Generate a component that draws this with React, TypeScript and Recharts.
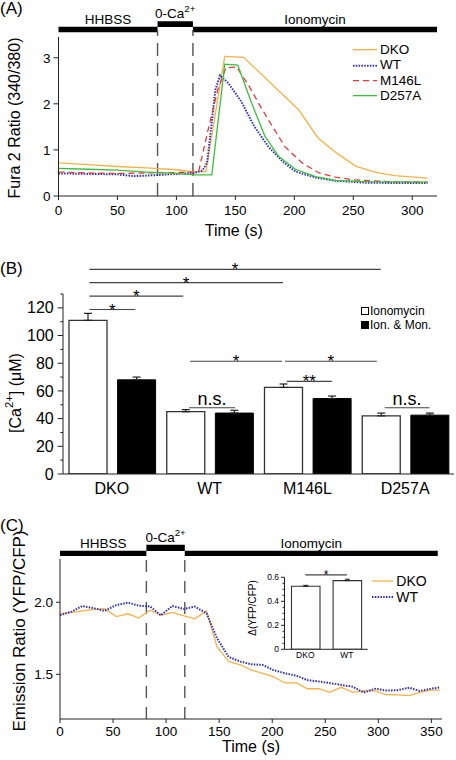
import React from 'react';
import {
  LineChart, Line, BarChart, Bar, ErrorBar, XAxis, YAxis,
  ReferenceArea, ReferenceLine, Legend,
} from 'recharts';

const FONT = '"Liberation Sans", Arial, Helvetica, sans-serif';

// ---- (A) Fura-2 ratio traces ----
const dkoTimeA = [0, 25, 50, 75, 100, 113, 125, 141, 157, 204, 220, 236, 252, 268, 285, 313];
const dkoRatioA = [0.72, 0.68, 0.64, 0.61, 0.57, 0.53, 0.53, 3.03, 3.01, 1.86, 1.26, 0.93, 0.65, 0.52, 0.44, 0.39];
const wtTimeA = [0, 25, 50, 64, 80, 100, 115, 122, 126, 130, 133, 137, 144, 155, 166, 178, 190, 201, 218, 235, 260, 290, 313];
const wtRatioA = [0.49, 0.48, 0.47, 0.43, 0.45, 0.48, 0.5, 0.55, 0.72, 1.6, 2.3, 2.62, 2.45, 2.05, 1.51, 1.07, 0.75, 0.53, 0.4, 0.33, 0.29, 0.28, 0.28];
const m146lTimeA = [0, 25, 50, 75, 100, 115, 119, 127, 135, 142, 151, 161, 170, 178, 192, 207, 221, 235, 250, 280, 313];
const m146lRatioA = [0.52, 0.5, 0.49, 0.5, 0.51, 0.52, 0.55, 1.45, 2.3, 2.78, 2.8, 2.41, 2.0, 1.65, 1.07, 0.71, 0.5, 0.41, 0.35, 0.31, 0.3];
const d257aTimeA = [0, 25, 50, 75, 100, 115, 130, 141, 152, 164, 175, 187, 201, 218, 235, 260, 313];
const d257aRatioA = [0.6, 0.58, 0.56, 0.52, 0.49, 0.46, 0.46, 2.86, 2.84, 2.0, 1.3, 0.85, 0.58, 0.42, 0.34, 0.31, 0.3];
const timeTicksA = [0, 50, 100, 150, 200, 250, 300];
const ratioTicksA = [0, 1, 2, 3];

// stimulation protocol (time boundaries of each period)
const stimLabels = ['HHBSS', '0-Ca', 'Ionomycin'];
const stimSup = ['', '2+', ''];
const stimEdgesA = [0, 84, 114, 321];
const stimEdgesC = [0, 81.4, 117.6, 356];

// ---- (B) calibrated [Ca2+] ----
const categoriesB = ['DKO', 'WT', 'M146L', 'D257A'];
const ionomycinB = [111, 45, 62.5, 42];
const ionomycinErrB = [5, 1.5, 2.5, 2];
const ionMonB = [68, 44, 54.5, 42.5];
const ionMonErrB = [2, 2, 1.8, 1.5];
const ticksB = [0, 10, 20, 30, 40, 50, 60, 70, 80, 90, 100, 110, 120, 130];
// comparisons: from/to in group units (index + bar offset), height in µM
const sigB = [
  { from: 0.27, to: 3.25, at: 147.8, mark: '*' },
  { from: 0.27, to: 2.25, at: 138.2, mark: '*' },
  { from: 0.27, to: 1.23, at: 128.5, mark: '*' },
  { from: 0.27, to: 0.74, at: 118.8, mark: '*' },
  { from: 1.3, to: 2.24, at: 81.4, mark: '*' },
  { from: 2.27, to: 3.21, at: 81.4, mark: '*' },
  { from: 2.29, to: 2.75, at: 66.9, mark: '**' },
  { from: 1.29, to: 1.76, at: 47.8, mark: 'n.s.' },
  { from: 3.29, to: 3.75, at: 47.8, mark: 'n.s.' },
];

// ---- (C) YFP/CFP emission ratio ----
const timeC = [0, 11, 21, 32, 42, 53, 64, 74, 85, 95, 106, 117, 127, 138, 148, 159, 170, 180, 191, 201, 212, 223, 233, 244, 254, 265, 276, 286, 297, 307, 318, 329, 339, 350, 358];
const dkoC = [1.92, 1.93, 1.94, 1.95, 1.955, 1.9, 1.92, 1.89, 1.945, 1.91, 1.93, 1.905, 1.885, 1.94, 1.69, 1.59, 1.565, 1.53, 1.507, 1.484, 1.44, 1.44, 1.4, 1.4, 1.375, 1.41, 1.375, 1.387, 1.385, 1.36, 1.357, 1.352, 1.375, 1.39, 1.39];
const wtC = [1.91, 1.935, 1.974, 1.958, 1.94, 1.98, 1.997, 1.977, 1.97, 1.91, 1.974, 1.953, 1.97, 1.924, 1.75, 1.62, 1.588, 1.57, 1.565, 1.53, 1.507, 1.49, 1.46, 1.45, 1.44, 1.426, 1.414, 1.373, 1.4, 1.387, 1.39, 1.407, 1.385, 1.4, 1.41];
const timeTicksC = [0, 50, 100, 150, 200, 250, 300, 350];
const ratioTicksC = [1.5, 2.0];

// inset: Δ(YFP/CFP)
const insetCats = ['DKO', 'WT'];
const insetDelta = [0.525, 0.572];
const insetErr = [0.008, 0.012];
const insetTicks = [0, 0.05, 0.1, 0.15, 0.2, 0.25, 0.3, 0.35, 0.4, 0.45, 0.5, 0.55, 0.6];
const sigInset = [{ from: 0.5, to: 1.5, at: 0.62, mark: '*' }];

const ORANGE = '#f5b24a';
const BLUE = '#3030c0';
const RED = '#e63a3a';
const GREEN = '#3cbf3c';

const pts = (t: number[], v: number[]) => t.map((x, i) => ({ t: x, v: v[i] }));

const seriesA = [
  { name: 'DKO', data: pts(dkoTimeA, dkoRatioA), color: ORANGE, width: 1.3, dash: undefined },
  { name: 'WT', data: pts(wtTimeA, wtRatioA), color: BLUE, width: 2, dash: '1.5 1.3' },
  { name: 'M146L', data: pts(m146lTimeA, m146lRatioA), color: RED, width: 1.3, dash: '6 4' },
  { name: 'D257A', data: pts(d257aTimeA, d257aRatioA), color: GREEN, width: 1.3, dash: undefined },
];
const seriesC = [
  { name: 'DKO', data: pts(timeC, dkoC), color: ORANGE, width: 1.3, dash: undefined },
  { name: 'WT', data: pts(timeC, wtC), color: BLUE, width: 2, dash: '1.5 1.3' },
];

const AXIS = '#222';

function LineKey({ items, fontSize, rowHeight, lineWidth }: any) {
  return (
    <div style={{ fontFamily: FONT, fontSize, color: '#000' }}>
      {items.map((s: any) => (
        <div key={s.name} style={{ display: 'flex', alignItems: 'center', height: rowHeight }}>
          <svg width={lineWidth} height={rowHeight} style={{ display: 'block' }}>
            <line x1={0} x2={lineWidth} y1={rowHeight / 2} y2={rowHeight / 2} stroke={s.color} strokeWidth={s.width} strokeDasharray={s.dash} />
          </svg>
          <span style={{ marginLeft: 3, lineHeight: 1 }}>{s.name}</span>
        </div>
      ))}
    </div>
  );
}

function BoxKey() {
  const rows = [
    { name: 'Ionomycin', fill: '#fff' },
    { name: 'Ion. & Mon.', fill: '#000' },
  ];
  return (
    <div style={{ fontFamily: FONT, fontSize: 12, color: '#000' }}>
      {rows.map((r) => (
        <div key={r.name} style={{ display: 'flex', alignItems: 'center', height: 14 }}>
          <div style={{ width: 6, height: 6, border: '1px solid #000', background: r.fill }} />
          <span style={{ marginLeft: 1, lineHeight: 1 }}>{r.name}</span>
        </div>
      ))}
    </div>
  );
}

const stimText = (name: string, sup: string, fs: number) => (p: any) => {
  const vb = p.viewBox;
  if (!vb) return null;
  return (
    <text x={vb.x + vb.width / 2} y={vb.y - 3} textAnchor="middle" fontSize={fs} fill="#000">
      {name}
      {sup ? <tspan dy={-fs * 0.45} fontSize={fs * 0.72}>{sup}</tspan> : null}
    </text>
  );
};

function stimulus(edges: number[], base: number[], raised: number[], fs: number, dash: string, floor: number, dashTop: number) {
  const out: any[] = [];
  stimLabels.forEach((name, i) => {
    const lv = stimSup[i] ? raised : base;
    out.push(
      <ReferenceArea
        key={'s' + i}
        x1={edges[i]}
        x2={edges[i + 1]}
        y1={lv[0]}
        y2={lv[1]}
        ifOverflow="visible"
        fill="#000"
        fillOpacity={1}
        stroke="none"
        label={stimText(name, stimSup[i], fs)}
      />
    );
  });
  [edges[1], edges[2]].forEach((x, i) => {
    out.push(
      <ReferenceLine
        key={'d' + i}
        segment={[{ x, y: floor }, { x, y: dashTop }]}
        ifOverflow="visible"
        stroke="#555"
        strokeWidth={1.4}
        strokeDasharray={dash}
      />
    );
  });
  return out;
}

const yTitle = (cx: number, cy: number, fs: number, text: string, sup?: string, rest?: string) => () => (
  <text transform={`rotate(-90 ${cx} ${cy})`} x={cx} y={cy} textAnchor="middle" dominantBaseline="central" fontSize={fs} fill="#000">
    {text}
    {sup ? <tspan dy={-fs * 0.4} fontSize={fs * 0.7}>{sup}</tspan> : null}
    {rest ? <tspan dy={fs * 0.4}>{rest}</tspan> : null}
  </text>
);

function MinorTick(props: any) {
  const { x, y, payload, every, len, minorLen, fontSize, gap, fmt } = props;
  const v = payload.value;
  const major = Math.abs(v / every - Math.round(v / every)) < 1e-6;
  return (
    <g>
      <line x1={x - (major ? len : minorLen)} x2={x} y1={y} y2={y} stroke={AXIS} strokeWidth={1} />
      {major ? (
        <text x={x - len - gap} y={y} dy="0.35em" textAnchor="end" fontSize={fontSize} fill="#000">
          {fmt(v)}
        </text>
      ) : null}
    </g>
  );
}

const sigMark = (mark: string, fs: number, dy: number) => (p: any) => {
  const vb = p.viewBox;
  if (!vb) return null;
  return (
    <text x={vb.x + vb.width / 2} y={vb.y + dy} textAnchor="middle" fontSize={fs} fill="#000">
      {mark}
    </text>
  );
};

// transparent chart laid over a bar chart: linear x in group units, same y scale
function SigOverlay({ width, height, margin, xDomain, yDomain, items, starSize, starDy, nsSize, nsDy }: any) {
  return (
    <LineChart width={width} height={height} margin={margin}>
      <XAxis type="number" dataKey="x" domain={xDomain} allowDataOverflow hide />
      <YAxis type="number" domain={yDomain} allowDataOverflow hide />
      {items.map((s: any, i: number) => {
        const ns = s.mark === 'n.s.';
        return (
          <ReferenceLine
            key={'sig' + i}
            segment={[{ x: s.from, y: s.at }, { x: s.to, y: s.at }]}
            ifOverflow="visible"
            stroke="#444"
            strokeWidth={1.1}
            label={ns ? sigMark(s.mark, nsSize, nsDy) : sigMark(s.mark, starSize, starDy)}
          />
        );
      })}
    </LineChart>
  );
}

function PanelA() {
  return (
    <LineChart width={456} height={245} margin={{ top: 37, right: 19, bottom: 9, left: 0 }}>
      <XAxis
        type="number"
        dataKey="t"
        domain={[0, 321]}
        ticks={timeTicksA}
        allowDataOverflow
        height={40}
        tickSize={4}
        tickMargin={5}
        stroke={AXIS}
        tick={{ fill: '#000', fontSize: 13.5 }}
        label={{ value: 'Time (s)', position: 'insideBottom', offset: 0, dx: -14, fontSize: 16, fill: '#000' }}
      />
      <YAxis
        type="number"
        domain={[0, 3.45]}
        ticks={ratioTicksA}
        allowDataOverflow
        width={58.5}
        tickSize={5}
        tickMargin={3}
        stroke={AXIS}
        tick={{ fill: '#000', fontSize: 13.5 }}
        label={yTitle(14, 118, 16, 'Fura 2 Ratio (340/380)')}
      />
      {stimulus(stimEdgesA, [3.552, 3.673], [3.667, 3.79], 13.5, '13 7', 0, 3.6)}
      {seriesA.map((s) => (
        <Line
          key={s.name}
          data={s.data}
          dataKey="v"
          name={s.name}
          type="linear"
          stroke={s.color}
          strokeWidth={s.width}
          strokeDasharray={s.dash}
          dot={false}
          activeDot={false}
          isAnimationActive={false}
        />
      ))}
      <Legend
        layout="vertical"
        align="center"
        verticalAlign="middle"
        wrapperStyle={{ top: 42.3, left: 353, width: 'auto' }}
        content={() => <LineKey items={seriesA} fontSize={13.5} rowHeight={15.3} lineWidth={24} />}
      />
    </LineChart>
  );
}

function PanelB() {
  const rows = categoriesB.map((c, i) => ({
    name: c,
    ion: ionomycinB[i],
    mon: ionMonB[i],
    ionErr: [0, ionomycinErrB[i]],
    monErr: [0, ionMonErrB[i]],
  }));
  return (
    <BarChart width={456} height={260} data={rows} margin={{ top: 49, right: 2, bottom: 5, left: 0 }} barGap={10.6}>
      <XAxis dataKey="name" height={26} tickLine={false} tickSize={0} tickMargin={9} stroke={AXIS} interval={0} tick={{ fill: '#000', fontSize: 16 }} />
      <YAxis
        type="number"
        domain={[0, 130]}
        ticks={ticksB}
        interval={0}
        allowDataOverflow
        width={63}
        tickLine={false}
        tickSize={0}
        tickMargin={0}
        stroke={AXIS}
        tick={(p: any) => <MinorTick {...p} every={20} len={5.3} minorLen={2.7} gap={4} fontSize={16} fmt={(v: number) => String(v)} />}
        label={yTitle(15, 148, 16, '[Ca', '2+', '] (μM)')}
      />
      <Bar dataKey="ion" fill="#fff" stroke="#333" strokeWidth={1.3} barSize={38} isAnimationActive={false}>
        <ErrorBar dataKey="ionErr" width={4} stroke="#222" strokeWidth={1.2} direction="y" />
      </Bar>
      <Bar dataKey="mon" fill="#000" stroke="#000" strokeWidth={1} barSize={38} isAnimationActive={false}>
        <ErrorBar dataKey="monErr" width={4} stroke="#222" strokeWidth={1.2} direction="y" />
      </Bar>
      <Legend
        layout="vertical"
        align="center"
        verticalAlign="middle"
        wrapperStyle={{ top: 59, left: 361, width: 'auto' }}
        content={() => <BoxKey />}
      />
    </BarChart>
  );
}

function PanelC() {
  return (
    <LineChart width={456} height={255} margin={{ top: 54, right: 14, bottom: 11, left: 0 }}>
      <XAxis
        type="number"
        dataKey="t"
        domain={[0, 360]}
        ticks={timeTicksC}
        allowDataOverflow
        height={30}
        tickSize={4}
        tickMargin={3.5}
        stroke={AXIS}
        tick={{ fill: '#000', fontSize: 13.5 }}
        label={{ value: 'Time (s)', position: 'insideBottom', offset: -2.5, fontSize: 16, fill: '#000' }}
      />
      <YAxis
        type="number"
        domain={[1.19, 2.3]}
        ticks={ratioTicksC}
        allowDataOverflow
        width={60}
        tickSize={4}
        tickMargin={3}
        stroke={AXIS}
        tick={{ fill: '#000', fontSize: 13.5 }}
        tickFormatter={(v: number) => v.toFixed(1)}
        label={yTitle(19, 126, 17, 'Emission Ratio (YFP/CFP)')}
      />
      {stimulus(stimEdgesC, [2.321, 2.358], [2.356, 2.398], 13.5, '12 9', 1.19, 2.34)}
      {seriesC.map((s) => (
        <Line
          key={s.name}
          data={s.data}
          dataKey="v"
          name={s.name}
          type="linear"
          stroke={s.color}
          strokeWidth={s.width}
          strokeDasharray={s.dash}
          dot={false}
          activeDot={false}
          isAnimationActive={false}
        />
      ))}
      <Legend
        layout="vertical"
        align="center"
        verticalAlign="middle"
        wrapperStyle={{ top: 68, left: 371.7, width: 'auto' }}
        content={() => <LineKey items={seriesC} fontSize={14} rowHeight={16} lineWidth={21.6} />}
      />
    </LineChart>
  );
}

function Inset() {
  const rows = insetCats.map((c, i) => ({ name: c, d: insetDelta[i], err: [0, insetErr[i]] }));
  return (
    <BarChart width={135} height={100} data={rows} margin={{ top: 15.3, right: 7.3, bottom: 0.7, left: 0 }}>
      <XAxis dataKey="name" height={12} tickLine={false} tickSize={0} tickMargin={3} stroke={AXIS} interval={0} tick={{ fill: '#000', fontSize: 8.5 }} />
      <YAxis
        type="number"
        domain={[0, 0.6]}
        ticks={insetTicks}
        interval={0}
        allowDataOverflow
        width={44.5}
        tickLine={false}
        tickSize={0}
        tickMargin={0}
        stroke={AXIS}
        tick={(p: any) => (
          <MinorTick {...p} every={0.2} len={3.5} minorLen={2} gap={2} fontSize={8.5} fmt={(v: number) => (v === 0 ? '0' : v.toFixed(1))} />
        )}
        label={yTitle(12, 46, 10, 'Δ(YFP/CFP)')}
      />
      <Bar dataKey="d" fill="#fff" stroke="#333" strokeWidth={1.1} barSize={28.5} isAnimationActive={false}>
        <ErrorBar dataKey="err" width={2.5} stroke="#222" strokeWidth={1} direction="y" />
      </Bar>
    </BarChart>
  );
}

const layer = (left: number, top: number, child: any, over = false) => (
  <div style={{ position: 'absolute', left, top, pointerEvents: over ? 'none' : undefined }}>{child}</div>
);

const panelTag = (text: string, top: number) => (
  <div style={{ position: 'absolute', left: 0, top, fontSize: 17, lineHeight: '17px', color: '#000' }}>{text}</div>
);

export default function App() {
  return (
    <div style={{ position: 'absolute', left: 0, top: 0, width: 456, height: 760, background: '#fff', fontFamily: FONT, overflow: 'hidden' }}>
      {layer(0, 0, <PanelA />)}
      {layer(0, 245, <PanelB />)}
      {layer(
        0,
        245,
        <SigOverlay
          width={456}
          height={260}
          margin={{ top: 49, right: 2, bottom: 31, left: 63 }}
          xDomain={[0, 4]}
          yDomain={[0, 130]}
          items={sigB}
          starSize={17}
          starDy={6}
          nsSize={18}
          nsDy={-2.5}
        />,
        true
      )}
      {layer(0, 505, <PanelC />)}
      {layer(240, 562, <Inset />)}
      {layer(
        240,
        562,
        <SigOverlay
          width={135}
          height={100}
          margin={{ top: 15.3, right: 7.3, bottom: 12.7, left: 44.5 }}
          xDomain={[0, 2]}
          yDomain={[0, 0.6]}
          items={sigInset}
          starSize={12}
          starDy={4.5}
          nsSize={10}
          nsDy={-2}
        />,
        true
      )}
      {panelTag('(A)', 0)}
      {panelTag('(B)', 259.6)}
      {panelTag('(C)', 516.6)}
    </div>
  );
}
